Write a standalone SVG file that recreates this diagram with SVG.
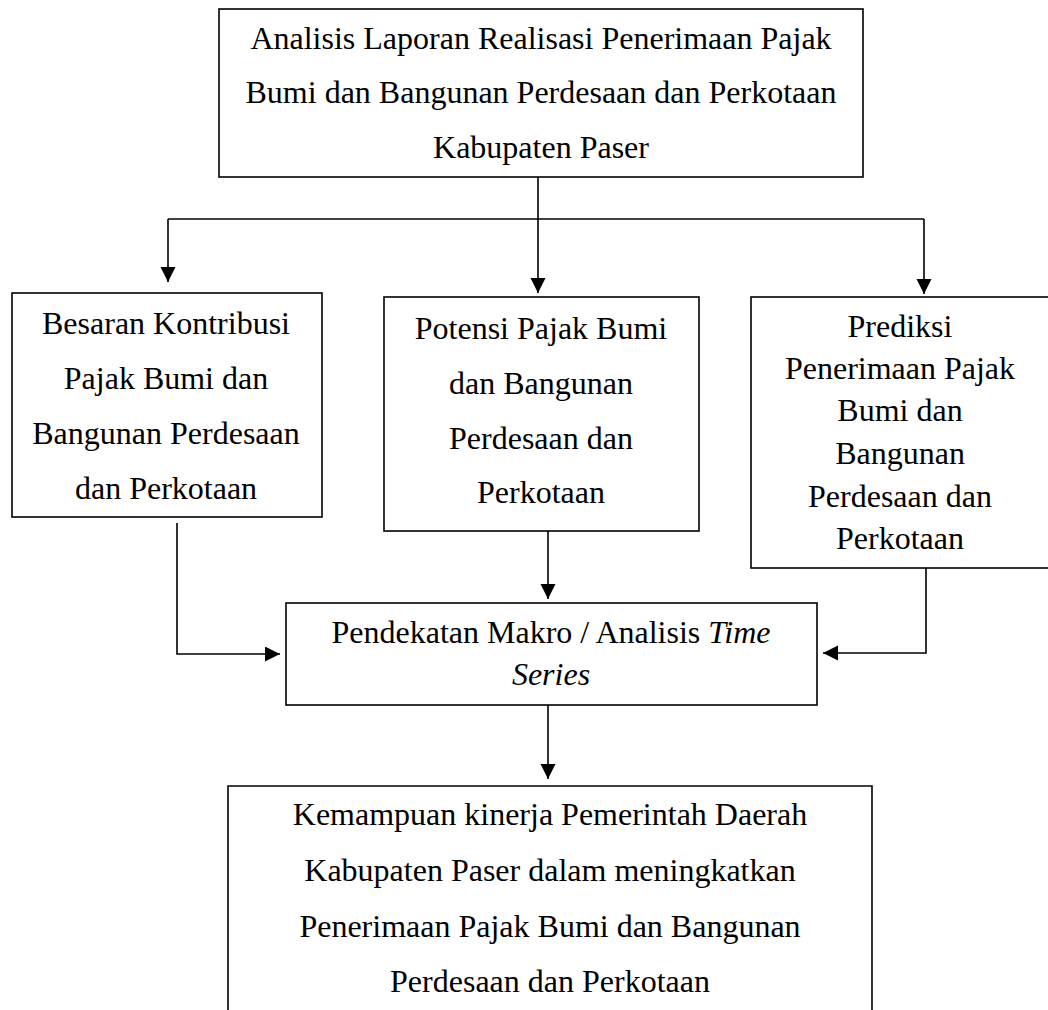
<svg xmlns="http://www.w3.org/2000/svg" width="1048" height="1010" viewBox="0 0 1048 1010">
<style>
.box{fill:#fff;stroke:#000;stroke-width:1.6}
.t{font-family:"Liberation Serif","Times New Roman",serif;font-size:32px;fill:#000;text-anchor:middle}
.c{fill:none;stroke:#000;stroke-width:1.6}
</style>
<defs>
<marker id="ah" markerUnits="userSpaceOnUse" markerWidth="16" markerHeight="16" refX="15" refY="7.5" orient="auto">
<path d="M0,0 L15,7.5 L0,15 Z" fill="#000"/>
</marker>
</defs>
<rect width="1048" height="1010" fill="#fff"/>
<g id="connectors">
<path class="c" d="M538,177 V293" marker-end="url(#ah)"/>
<path class="c" d="M168,219 H924"/>
<path class="c" d="M168,219 V282" marker-end="url(#ah)"/>
<path class="c" d="M924,219 V294" marker-end="url(#ah)"/>
<path class="c" d="M177,523 V654 H280" marker-end="url(#ah)"/>
<path class="c" d="M548,531 V599" marker-end="url(#ah)"/>
<path class="c" d="M926,568 V653 H823" marker-end="url(#ah)"/>
<path class="c" d="M548,705 V779" marker-end="url(#ah)"/>
</g>
<g id="n-analisis">
<rect class="box" x="219" y="9" width="644" height="168"/>
<text class="t" x="541" y="49">Analisis Laporan Realisasi Penerimaan Pajak</text>
<text class="t" x="541" y="103">Bumi dan Bangunan Perdesaan dan Perkotaan</text>
<text class="t" x="541" y="158">Kabupaten Paser</text>
</g>
<g id="n-besaran">
<rect class="box" x="12" y="293" width="310" height="224"/>
<text class="t" x="166" y="334">Besaran Kontribusi</text>
<text class="t" x="166" y="389">Pajak Bumi dan</text>
<text class="t" x="166" y="444">Bangunan Perdesaan</text>
<text class="t" x="166" y="499">dan Perkotaan</text>
</g>
<g id="n-potensi">
<rect class="box" x="384" y="297" width="315" height="234"/>
<text class="t" x="541" y="339">Potensi Pajak Bumi</text>
<text class="t" x="541" y="394">dan Bangunan</text>
<text class="t" x="541" y="449">Perdesaan dan</text>
<text class="t" x="541" y="503">Perkotaan</text>
</g>
<g id="n-prediksi">
<rect class="box" x="751" y="297" width="302" height="271"/>
<text class="t" x="900" y="337">Prediksi</text>
<text class="t" x="900" y="379">Penerimaan Pajak</text>
<text class="t" x="900" y="421">Bumi dan</text>
<text class="t" x="900" y="464">Bangunan</text>
<text class="t" x="900" y="507">Perdesaan dan</text>
<text class="t" x="900" y="549">Perkotaan</text>
</g>
<g id="n-pendekatan">
<rect class="box" x="286" y="603" width="531" height="102"/>
<text class="t" x="551" y="643">Pendekatan Makro / Analisis <tspan font-style="italic">Time</tspan></text>
<text class="t" x="551" y="685" font-style="italic">Series</text>
</g>
<g id="n-kemampuan">
<path class="box" d="M228,1011 V786 H872 V1011"/>
<text class="t" x="550" y="825">Kemampuan kinerja Pemerintah Daerah</text>
<text class="t" x="550" y="881">Kabupaten Paser dalam meningkatkan</text>
<text class="t" x="550" y="937">Penerimaan Pajak Bumi dan Bangunan</text>
<text class="t" x="550" y="992">Perdesaan dan Perkotaan</text>
</g>
</svg>
